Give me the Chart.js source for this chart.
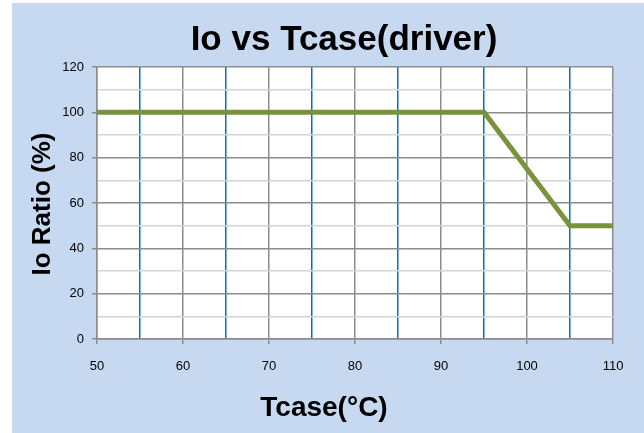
<!DOCTYPE html>
<html>
<head>
<meta charset="utf-8">
<script src="https://cdn.jsdelivr.net/npm/chart.js@4/dist/chart.umd.min.js"></script>
<style>
  html, body { margin: 0; padding: 0; background: #ffffff; }
  #wrap { position: absolute; left: 12px; top: 3px; width: 632px; height: 430px; background: #c6d9f1; }
</style>
</head>
<body>
<div id="wrap"><canvas id="chart" width="632" height="430"></canvas></div>
<script>
// ─── DATA ─────────────────────────────────────────────────────────────
const tcase = [50, 95, 105, 110];      // °C
const ioRatio = [100, 100, 50, 50];    // %
const xTicks = [50, 60, 70, 80, 90, 100, 110];
const yTicks = [0, 20, 40, 60, 80, 100, 120];

const chartTitle = 'Io vs Tcase(driver)';
const xTitle = 'Tcase(°C)';
const yTitle = 'Io Ratio (%)';

// titles drawn at fixed spots (Excel-style placement, not centered on plot)
const titlesPlugin = {
    id: 'titles',
    afterDraw(chart) {
        const ctx = chart.ctx;
        ctx.save();
        ctx.fillStyle = '#000';
        ctx.textAlign = 'center';
        ctx.textBaseline = 'middle';
        ctx.font = 'bold 35px "Liberation Sans", Arial, sans-serif';
        ctx.fillText(chartTitle, 332, 37);
        ctx.font = 'bold 28px "Liberation Sans", Arial, sans-serif';
        ctx.fillText(xTitle, 312, 405);
        ctx.font = 'bold 26px "Liberation Sans", Arial, sans-serif';
        ctx.translate(31, 201);
        ctx.rotate(-Math.PI / 2);
        ctx.fillText(yTitle, 0, 0);
        ctx.restore();
    }
};

const tickFont = { family: '"Liberation Sans", Arial, sans-serif', size: 13 };

new Chart(document.getElementById('chart'), {
    type: 'scatter',
    data: {
        datasets: [{
            data: tcase.map((x, i) => ({ x, y: ioRatio[i] })),
            showLine: true,
            borderColor: '#77933c',
            borderWidth: 5,
            pointRadius: 0,
            tension: 0
        }]
    },
    options: {
        responsive: false,
        animation: false,
        layout: { padding: { left: 0, right: 31, top: 64, bottom: 54 } },
        plugins: { legend: { display: false }, tooltip: { enabled: false } },
        scales: {
            x: {
                type: 'linear',
                min: 50, max: 110,
                afterBuildTicks: s => { s.ticks = []; for (let v = 50; v <= 110; v += 5) s.ticks.push({ value: v }); },
                afterFit: s => { s.height = 40; },
                ticks: {
                    color: '#000', font: tickFont, padding: 15, maxRotation: 0, autoSkip: false,
                    callback: v => xTicks.includes(v) ? v : ''
                },
                grid: {
                    color: c => (c.tick && c.tick.value % 10 === 0) ? '#8c8c8c' : '#0070c0',
                    lineWidth: 1.5,
                    tickLength: 5,
                    tickColor: c => (c.tick && c.tick.value % 10 === 0) ? '#8c8c8c' : 'rgba(0,0,0,0)'
                },
                border: { color: '#8c8c8c', width: 1.5 }
            },
            y: {
                min: 0, max: 120,
                afterBuildTicks: s => { s.ticks = []; for (let v = 0; v <= 120; v += 10) s.ticks.push({ value: v }); },
                afterFit: s => { s.width = 85; },
                ticks: {
                    color: '#000', font: tickFont, padding: 8, autoSkip: false,
                    callback: v => yTicks.includes(v) ? v : ''
                },
                grid: {
                    color: c => (c.tick && c.tick.value % 20 === 0) ? '#8c8c8c' : '#d4d4d4',
                    lineWidth: 1.5,
                    tickLength: 5,
                    tickColor: c => (c.tick && c.tick.value % 20 === 0) ? '#8c8c8c' : 'rgba(0,0,0,0)'
                },
                border: { color: '#8c8c8c', width: 1.5 }
            }
        }
    },
    plugins: [{
        id: 'plotBg',
        beforeDraw(chart) {
            const a = chart.chartArea;
            chart.ctx.save();
            chart.ctx.fillStyle = '#ffffff';
            chart.ctx.fillRect(a.left, a.top, a.right - a.left, a.bottom - a.top);
            chart.ctx.restore();
        }
    }, titlesPlugin]
});
</script>
</body>
</html>
